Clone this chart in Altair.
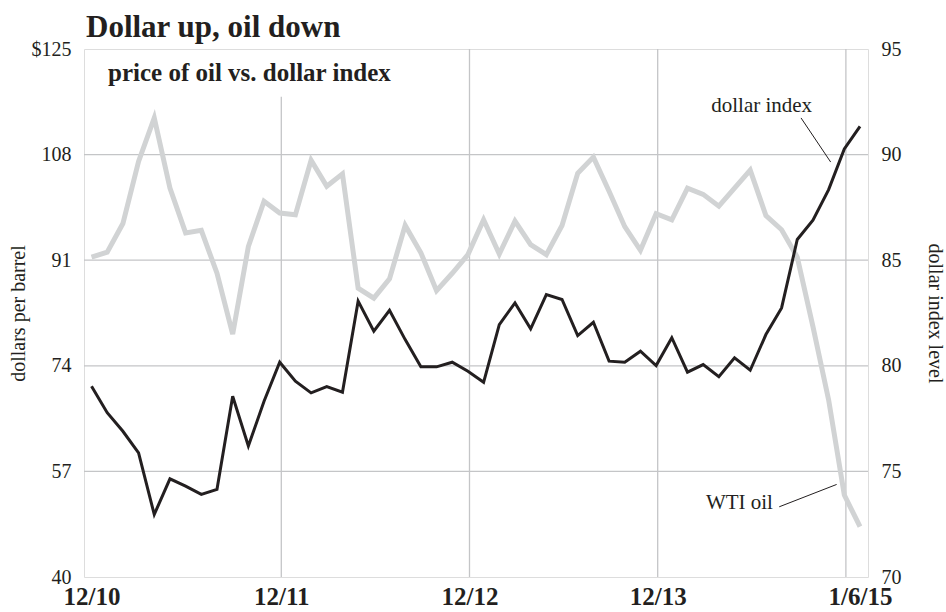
import altair as alt
import pandas as pd

# ---- data (monthly, Dec 2010 .. Jan 2015) ----
month_index = list(range(50))
wti_oil = [91.5, 92.3, 96.9, 106.9, 113.9, 102.6, 95.4, 95.8, 88.9, 79.1, 93.2, 100.5, 98.6,
           98.3, 107.1, 102.9, 104.9, 86.5, 84.9, 88.0, 96.6, 92.2, 86.1, 88.9, 91.9,
           97.5, 92.0, 97.3, 93.5, 91.9, 96.6, 105.0, 107.6, 102.1, 96.4, 92.6, 98.5,
           97.5, 102.6, 101.6, 99.7, 102.6, 105.5, 98.2, 95.9, 91.5, 80.3, 68.5, 53.2, 48.1]
dollar_index = [79.03, 77.78, 76.90, 75.88, 72.96, 74.65, 74.30, 73.91, 74.15, 78.56, 76.20, 78.32, 80.17,
                79.27, 78.72, 79.01, 78.75, 83.06, 81.64, 82.63, 81.24, 79.95, 79.95, 80.17, 79.74,
                79.22, 81.95, 82.98, 81.75, 83.37, 83.14, 81.43, 82.06, 80.22, 80.17, 80.69, 80.01,
                81.33, 79.70, 80.06, 79.48, 80.38, 79.79, 81.48, 82.74, 85.98, 86.89, 88.34, 90.27, 91.34]

x_tick_values = [0, 12.1, 24.1, 36.1, 49]
x_tick_labels = ["12/10", "12/11", "12/12", "12/13", "1/6/15"]
x_grid = [12.1, 24.1, 36.1, 48.1]
x_grid_top = [117.3, 125, 125, 125]
oil_ticks = [40, 57, 74, 91, 108, 125]
oil_grid = [57, 74, 91, 108]
dollar_ticks = [70, 75, 80, 85, 90, 95]

# annotation texts (data coordinates: month index, dollars)
note_text = ["dollar index", "WTI oil"]
note_x = [42.73, 43.45]
note_y = [114.9, 51.0]
leader_x = [45.24, 43.85]
leader_x2 = [47.13, 47.51]
leader_y = [113.9, 51.3]
leader_y2 = [106.8, 54.9]
subtitle_text = ["price of oil vs. dollar index"]
subtitle_x = [1.05]
subtitle_y = [119.9]

SERIF = "Liberation Serif"
INK = "#231f20"
GREY = "#d1d3d4"
GRID = "#c4c5c7"
W, H = 784, 528

df = pd.DataFrame({"m": month_index, "oil": wti_oil, "dollar": dollar_index})
vgrid = pd.DataFrame({"m": x_grid, "top": x_grid_top, "bot": [40] * len(x_grid)})
hgrid = pd.DataFrame({"v": oil_grid})
notes = pd.DataFrame({"m": note_x, "v": note_y, "t": note_text})
leaders = pd.DataFrame({"m": leader_x, "m2": leader_x2, "v": leader_y, "v2": leader_y2})
sub = pd.DataFrame({"m": subtitle_x, "v": subtitle_y, "t": subtitle_text})

x_scale = alt.Scale(domain=[-0.48, 49.51], nice=False, zero=False)
oil_scale = alt.Scale(domain=[40, 125], nice=False, zero=False)
dollar_scale = alt.Scale(domain=[70, 95], nice=False, zero=False)

label_expr = " : ".join(
    f"datum.value == {v} ? '{l}'" for v, l in zip(x_tick_values, x_tick_labels)
) + " : ''"

x_axis = alt.Axis(values=x_tick_values, labelExpr=label_expr, grid=False, ticks=False,
                  domain=False, title=None, labelFont=SERIF, labelFontSize=25,
                  labelFontWeight="bold", labelColor=INK, labelPadding=7, labelFlush=False,
                  labelOverlap=False)

def X(field):
    return alt.X(f"{field}:Q", scale=x_scale, axis=x_axis)

def Yoil(field):
    return alt.Y(f"{field}:Q", scale=oil_scale, axis=None)

hgrid_layer = alt.Chart(hgrid).mark_rule(color=GRID, strokeWidth=1.3).encode(y=Yoil("v"))
vgrid_layer = alt.Chart(vgrid).mark_rule(color=GRID, strokeWidth=1.3).encode(
    x=X("m"), y=Yoil("top"), y2="bot:Q")

oil_layer = alt.Chart(df).mark_line(color=GREY, strokeWidth=5, strokeJoin="miter").encode(
    x=X("m"),
    y=alt.Y("oil:Q", scale=oil_scale,
            axis=alt.Axis(values=oil_ticks, orient="left", grid=False, ticks=False, domain=False,
                          labelExpr="datum.value == 125 ? '$125' : datum.label",
                          labelFont=SERIF, labelFontSize=20, labelColor=INK, labelPadding=13,
                          title="dollars per barrel", titleFont=SERIF, titleFontSize=20,
                          titleFontWeight="normal", titleColor=INK, titleAngle=-90,
                          titleX=-66, titleY=H / 2, titleAlign="center", titleBaseline="middle")),
)

dollar_layer = alt.Chart(df).mark_line(color=INK, strokeWidth=3, strokeJoin="miter").encode(
    x=X("m"),
    y=alt.Y("dollar:Q", scale=dollar_scale,
            axis=alt.Axis(values=dollar_ticks, orient="right", grid=False, ticks=False, domain=False,
                          labelFont=SERIF, labelFontSize=20, labelColor=INK, labelPadding=13,
                          title="dollar index level", titleFont=SERIF, titleFontSize=20,
                          titleFontWeight="normal", titleColor=INK, titleAngle=90,
                          titleX=66, titleY=H / 2, titleAlign="center", titleBaseline="middle")),
)

leader_layer = alt.Chart(leaders).mark_rule(color=INK, strokeWidth=1).encode(
    x=X("m"), x2="m2:Q", y=Yoil("v"), y2="v2:Q")

note1 = alt.Chart(notes.iloc[[0]]).mark_text(font=SERIF, fontSize=21, color=INK, align="center",
                                             baseline="alphabetic").encode(
    x=X("m"), y=Yoil("v"), text="t:N")
note2 = alt.Chart(notes.iloc[[1]]).mark_text(font=SERIF, fontSize=21, color=INK, align="right",
                                             baseline="alphabetic").encode(
    x=X("m"), y=Yoil("v"), text="t:N")
sub_layer = alt.Chart(sub).mark_text(font=SERIF, fontSize=25, fontWeight="bold", color=INK,
                                     align="left", baseline="alphabetic").encode(
    x=X("m"), y=Yoil("v"), text="t:N")

chart = alt.layer(
    hgrid_layer, vgrid_layer, oil_layer, dollar_layer, leader_layer, note1, note2, sub_layer
).resolve_scale(y="independent").properties(
    width=W, height=H,
    title=alt.TitleParams("Dollar up, oil down", anchor="start", frame="group", font=SERIF,
                          fontSize=31, fontWeight="bold", color=INK, offset=-29, dx=2,
                          baseline="alphabetic"),
    autosize=alt.AutoSizeParams(type="none"),
    padding={"left": 84, "top": 49, "right": 78, "bottom": 35},
).configure_view(stroke=INK, strokeWidth=2).configure(background="white")

chart.save("out.html", embed_options={"renderer": "svg", "actions": False})
